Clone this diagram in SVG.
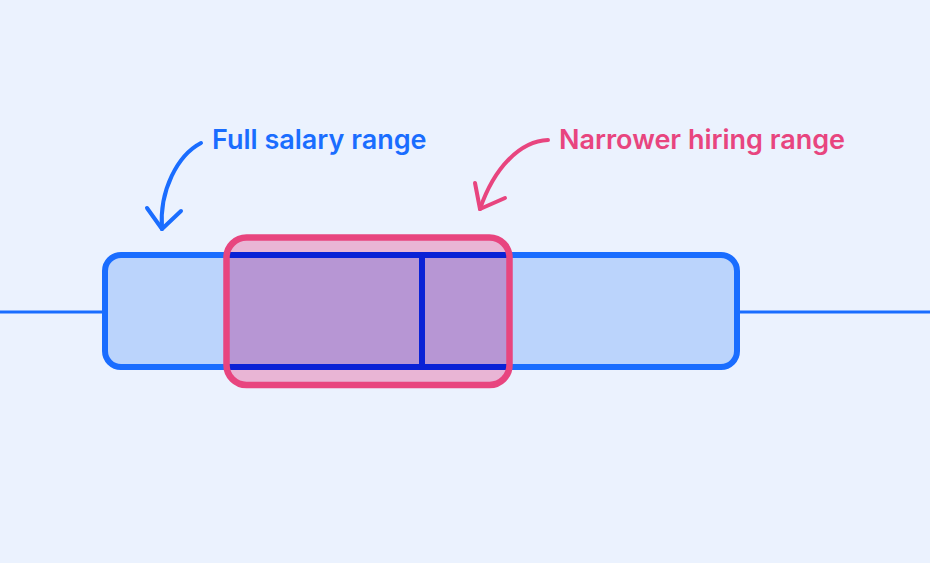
<svg xmlns="http://www.w3.org/2000/svg" width="930" height="563" viewBox="0 0 930 563">
  <style>
    .lbl { font-family: Inter, "Liberation Sans", sans-serif; font-weight: 600; font-size: 27px; }
    .blue { fill: #1A6DFF; }
    .pink { fill: #E8457F; }
    .arrowB { fill: none; stroke: #1A6DFF; stroke-width: 4; stroke-linecap: round; stroke-linejoin: round; }
    .arrowP { fill: none; stroke: #E8457F; stroke-width: 4; stroke-linecap: round; stroke-linejoin: round; }
  </style>
  <rect x="0" y="0" width="930" height="563" fill="#EBF2FE"/>
  <g id="connectors">
    <line x1="0" y1="312" x2="104" y2="312" stroke="#1A6DFF" stroke-width="3"/>
    <line x1="738" y1="312" x2="930" y2="312" stroke="#1A6DFF" stroke-width="3"/>
    <path class="arrowB" d="M201,143 C178,155 159,190 162,229"/>
    <path class="arrowB" d="M147,208 L162,229 L181,211"/>
    <path class="arrowP" d="M548,140 C520,141 494,168 480,209"/>
    <path class="arrowP" d="M475,183 L480,209 L505,198"/>
  </g>
  <g id="full-range">
    <rect x="105" y="255" width="632" height="112" rx="16" fill="#BBD4FC" stroke="#1A6DFF" stroke-width="6"/>
  </g>
  <g id="hiring-range">
    <rect x="226.5" y="237.5" width="283" height="147.5" rx="20" fill="#E9B5D5"/>
    <rect x="229" y="255" width="278" height="112" fill="#B796D4"/>
    <line x1="229" y1="255" x2="507" y2="255" stroke="#0A22D6" stroke-width="6"/>
    <line x1="229" y1="367" x2="507" y2="367" stroke="#0A22D6" stroke-width="6"/>
    <line x1="422" y1="255" x2="422" y2="367" stroke="#0A22D6" stroke-width="6"/>
    <rect x="226.5" y="237.5" width="283" height="147.5" rx="20" fill="none" stroke="#E8457F" stroke-width="6.5"/>
  </g>
  <g id="labels">
    <text class="lbl blue" x="212" y="149">Full salary range</text>
    <text class="lbl pink" x="559" y="149">Narrower hiring range</text>
  </g>
</svg>
